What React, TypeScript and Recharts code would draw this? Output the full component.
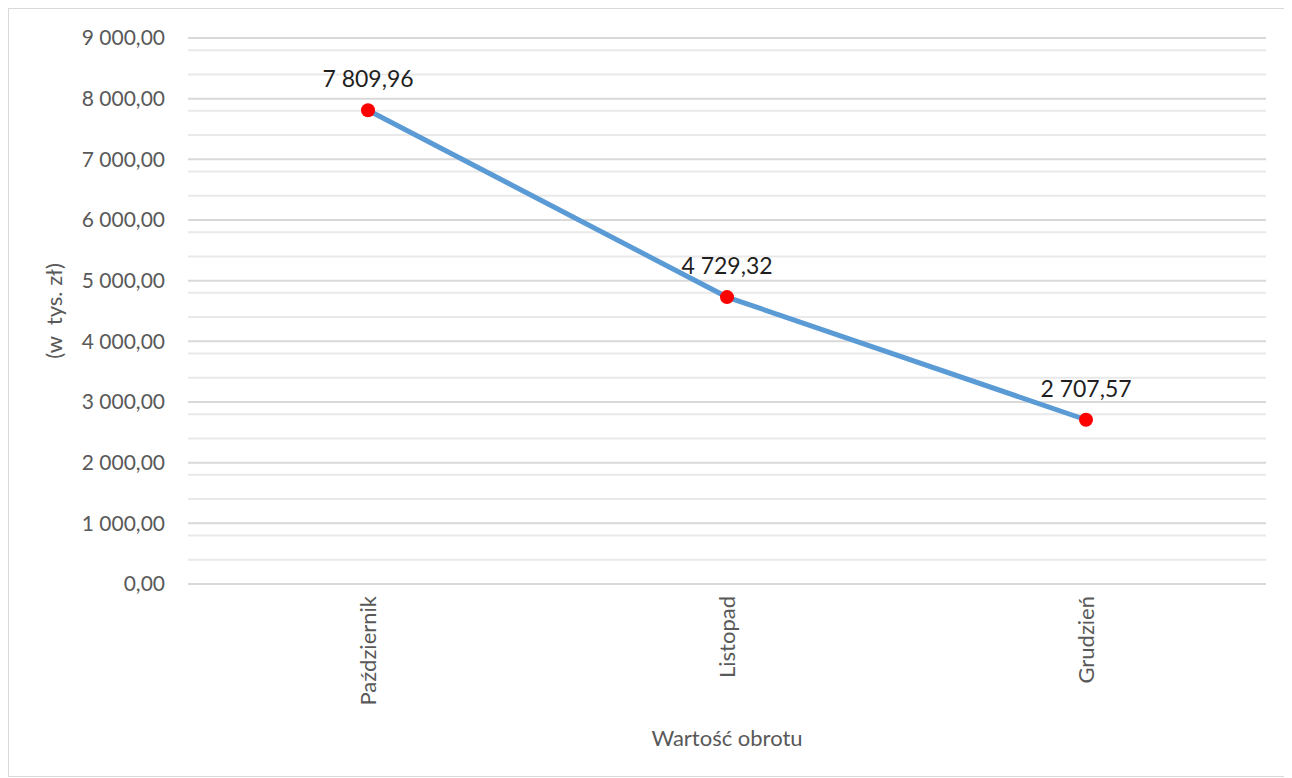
import React from 'react';
import { LineChart, Line, XAxis, YAxis, CartesianGrid, LabelList } from 'recharts';

const months = ['Październik', 'Listopad', 'Grudzień'];
const turnover = [7809.96, 4729.32, 2707.57];
const yTicks = [0, 1000, 2000, 3000, 4000, 5000, 6000, 7000, 8000, 9000];
const minorTicks = Array.from({ length: 46 }, (_, i) => i * 200).filter((v) => v % 1000 !== 0);

const data = months.map((m, i) => ({ month: m, value: turnover[i] }));

const FONT = 'Lato, "Open Sans", sans-serif';
const fmtTick = (v: number) => {
  const [int, dec] = v.toFixed(2).split('.');
  return int.replace(/\B(?=(\d{3})+(?!\d))/g, ' ') + ',' + dec;
};

const MonthTick = (props: any) => {
  const { x, y, payload } = props;
  return (
    <text
      x={x}
      y={y + 4}
      transform={`rotate(-90, ${x}, ${y + 4})`}
      textAnchor="end"
      dy="0.35em"
      fill="#595959"
      fontSize={22}
      fontFamily={FONT}
    >
      {payload.value}
    </text>
  );
};

export default function App() {
  return (
    <div
      style={{
        width: 1283,
        height: 767,
        borderLeft: '1px solid #d9d9d9',
        borderTop: '1px solid #d9d9d9',
        borderBottom: '1px solid #d9d9d9',
        background: '#fff',
        position: 'relative',
      }}
    >
      <LineChart
        width={1283}
        height={767}
        data={data}
        margin={{ top: 29, right: 26, left: 30, bottom: 22 }}
      >
        {/* minor lines every 200, major every 1000 */}
        <CartesianGrid vertical={false} horizontalValues={minorTicks} stroke="#e9e9e9" strokeWidth={2} />
        <CartesianGrid vertical={false} horizontalValues={yTicks} stroke="#d9d9d9" strokeWidth={2} />
        <XAxis
          dataKey="month"
          axisLine={false}
          tickLine={false}
          padding={{ left: 180, right: 180 }}
          height={170}
          interval={0}
          tick={<MonthTick />}
          label={{
            value: 'Wartość obrotu',
            position: 'insideBottom',
            offset: 8,
            fill: '#595959',
            fontSize: 22,
            fontFamily: FONT,
          }}
        />
        <YAxis
          domain={[0, 9000]}
          ticks={yTicks}
          axisLine={false}
          tickLine={false}
          width={149}
          tickFormatter={fmtTick}
          tick={{ fill: '#595959', fontSize: 21, fontFamily: FONT }}
          tickMargin={17}
          label={{
            value: '(w\u00a0\u00a0tys.\u00a0zł)',
            angle: -90,
            position: 'insideLeft',
            offset: 15,
            style: { textAnchor: 'middle' },
            fill: '#595959',
            fontSize: 22,
            fontFamily: FONT,
          }}
        />
        <Line
          type="linear"
          dataKey="value"
          stroke="#5b9bd5"
          strokeWidth={5}
          dot={{ r: 7, fill: '#ff0000', stroke: '#ff0000', strokeWidth: 0 }}
          activeDot={false}
          isAnimationActive={false}
        >
          <LabelList
            dataKey="value"
            position="top"
            offset={23}
            formatter={(v: any) => fmtTick(Number(v))}
            fill="#1f1f1f"
            fontSize={23}
            fontFamily={FONT}
          />
        </Line>
      </LineChart>
    </div>
  );
}
